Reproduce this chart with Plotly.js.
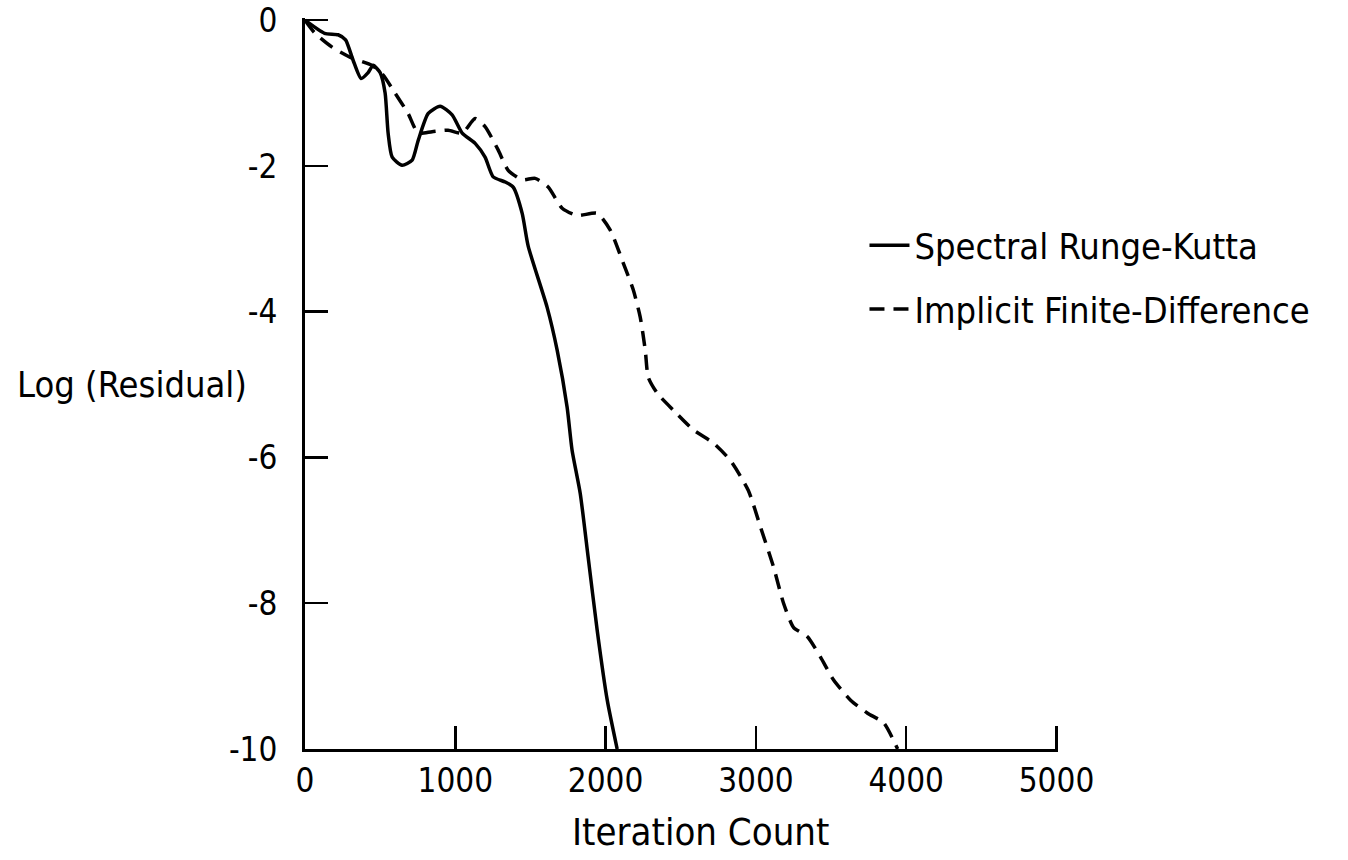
<!DOCTYPE html>
<html>
<head>
<meta charset="utf-8">
<script src="https://cdn.plot.ly/plotly-3.0.1.min.js"></script>
<style>html,body{margin:0;padding:0;background:#fff;}#chart{width:1348px;height:860px;}</style>
</head>
<body>
<div id="chart"></div>
<script>
const srkIter = [0, 130, 220, 270, 320, 373, 420, 453, 500, 533, 553, 580, 646, 713, 753, 820, 899, 979, 1046, 1132, 1198, 1252, 1332, 1385, 1445, 1485, 1611, 1678, 1744, 1777, 1831, 1884, 1944, 2011, 2077];
const srkLogRes = [0, -0.18, -0.2, -0.27, -0.55, -0.8, -0.72, -0.62, -0.72, -1.0, -1.55, -1.88, -1.99, -1.92, -1.65, -1.28, -1.18, -1.30, -1.55, -1.69, -1.88, -2.15, -2.22, -2.29, -2.65, -3.1, -3.94, -4.53, -5.31, -5.9, -6.49, -7.37, -8.37, -9.33, -10.0];

const ifdIter = [0, 67, 180, 313, 446, 519, 599, 686, 753, 846, 952, 1046, 1132, 1198, 1285, 1352, 1445, 1531, 1618, 1711, 1811, 1944, 2031, 2117, 2184, 2230, 2264, 2284, 2344, 2450, 2583, 2716, 2830, 2949, 3030, 3117, 3184, 3250, 3343, 3430, 3516, 3630, 3743, 3850, 3943];
const ifdLogRes = [0, -0.18, -0.37, -0.52, -0.62, -0.75, -1.0, -1.28, -1.55, -1.53, -1.51, -1.55, -1.35, -1.46, -1.78, -2.06, -2.19, -2.17, -2.29, -2.58, -2.68, -2.65, -2.88, -3.33, -3.70, -4.07, -4.53, -4.90, -5.12, -5.35, -5.62, -5.80, -6.04, -6.45, -6.95, -7.50, -8.0, -8.33, -8.46, -8.74, -9.05, -9.33, -9.51, -9.64, -10.0];

const seriesNames = ["Spectral Runge-Kutta", "Implicit Finite-Difference"];
const xTickVals = [0, 1000, 2000, 3000, 4000, 5000];
const xTickText = ["0", "1000", "2000", "3000", "4000", "5000"];
const yTickVals = [0, -2, -4, -6, -8, -10];
const yTickText = ["0", "-2", "-4", "-6", "-8", "-10"];
const xTitle = "Iteration Count";
const yTitle = "Log (Residual)";

const FONT = "'DejaVu Sans Condensed', 'Liberation Sans Narrow', Arial, sans-serif";

const traces = [
  {
    x: srkIter, y: srkLogRes, name: seriesNames[0], mode: "lines", type: "scatter",
    line: {color: "#000", width: 3.5, shape: "spline", smoothing: 0.6},
    legendgroup: "a", cliponaxis: false
  },
  {
    x: ifdIter, y: ifdLogRes, name: seriesNames[1], mode: "lines", type: "scatter",
    line: {color: "#000", width: 3.5, dash: "15px,9px", shape: "spline", smoothing: 0.6},
    legendgroup: "b", cliponaxis: false
  }
];

const layout = {
  width: 1348, height: 860,
  margin: {l: 305, r: 290, t: 18, b: 111, pad: 0},
  paper_bgcolor: "#fff", plot_bgcolor: "#fff",
  font: {family: FONT, color: "#000", size: 32},
  showlegend: true,
  legend: {
    x: 0.743, y: 0.73, xanchor: "left", yanchor: "top",
    font: {family: FONT, size: 36, color: "#000"},
    bgcolor: "rgba(0,0,0,0)", borderwidth: 0,
    traceorder: "grouped", tracegroupgap: 14, itemwidth: 40
  },
  xaxis: {
    range: [0, 5010], showgrid: false, zeroline: false,
    showline: true, linecolor: "#000", linewidth: 3,
    ticks: "inside", ticklen: 23, tickwidth: 2.5, tickcolor: "#000",
    tickmode: "array", tickvals: xTickVals, ticktext: xTickText,
    tickfont: {family: FONT, size: 33, color: "#000"},
    ticklabelstandoff: 0,
    fixedrange: true
  },
  yaxis: {
    range: [-10, 0.03], showgrid: false, zeroline: false,
    showline: true, linecolor: "#000", linewidth: 3,
    ticks: "inside", ticklen: 23, tickwidth: 2.5, tickcolor: "#000",
    tickmode: "array", tickvals: yTickVals, ticktext: yTickText,
    tickfont: {family: FONT, size: 33, color: "#000"},
    ticklabelstandoff: 18,
    fixedrange: true
  },
  annotations: [
    {text: xTitle, xref: "paper", yref: "paper", x: (700 - 305) / 753, y: (749 - 832) / 731,
     xanchor: "center", yanchor: "middle", showarrow: false,
     font: {family: FONT, size: 38, color: "#000"}},
    {text: yTitle, xref: "paper", yref: "y", x: (15 - 305) / 753, y: -5,
     xanchor: "left", yanchor: "middle", showarrow: false,
     font: {family: FONT, size: 36, color: "#000"}}
  ]
};

Plotly.newPlot("chart", traces, layout, {displayModeBar: false, staticPlot: true});
</script>
</body>
</html>
